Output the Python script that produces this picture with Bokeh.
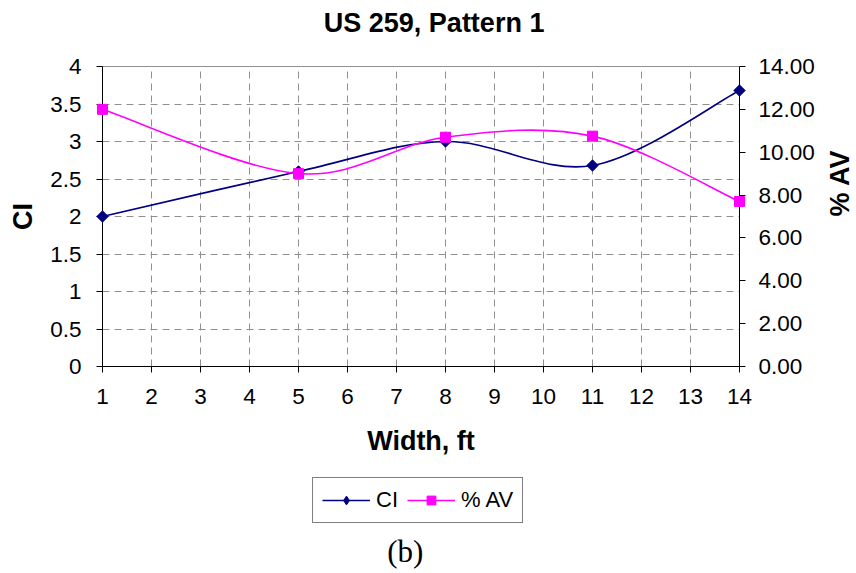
import math
from bokeh.plotting import figure
from bokeh.layouts import column
from bokeh.models import (Range1d, LinearAxis, Legend, LegendItem, Label,
                          NumeralTickFormatter, FixedTicker)
from bokeh.embed import file_html
from bokeh.resources import INLINE

# ---- data ----
width_ft = [1, 5, 8, 11, 14]
ci = [2.0, 2.6, 3.0, 2.68, 3.68]
av = [12.0, 9.0, 10.7, 10.75, 7.7]
x_ticks = list(range(1, 15))
ci_ticks = [0, 0.5, 1, 1.5, 2, 2.5, 3, 3.5, 4]
av_ticks = [0, 2, 4, 6, 8, 10, 12, 14]

FONT = "Liberation Sans"
NAVY = "#000080"
MAGENTA = "#FF00FF"
W = 856
LEFT, RIGHT = 102, 117
FRAME_W = W - LEFT - RIGHT
TOP_H = 52
MAIN_H = 14 + 300 + 100
BOT_H = 572 - TOP_H - MAIN_H


def bezier_segments(xs, ys):
    """Excel-style smoothed line: cubic Bezier control points from the points."""
    n = len(xs)
    out = dict(x0=[], y0=[], x1=[], y1=[], cx0=[], cy0=[], cx1=[], cy1=[])
    for i in range(n - 1):
        pm = max(i - 1, 0)
        pp = min(i + 2, n - 1)
        out["x0"].append(xs[i]); out["y0"].append(ys[i])
        out["x1"].append(xs[i + 1]); out["y1"].append(ys[i + 1])
        out["cx0"].append(xs[i] + (xs[i + 1] - xs[pm]) / 6)
        out["cy0"].append(ys[i] + (ys[i + 1] - ys[pm]) / 6)
        out["cx1"].append(xs[i + 1] - (xs[pp] - xs[i]) / 6)
        out["cy1"].append(ys[i + 1] - (ys[pp] - ys[i]) / 6)
    return out


def strip(height):
    # frame is aligned with the main chart's frame by the column layout,
    # so map its x range to page pixels LEFT..W-RIGHT
    f = figure(width=W, height=height, output_backend="svg", toolbar_location=None,
               x_range=Range1d(LEFT, W - RIGHT), y_range=Range1d(0, height),
               x_axis_location=None, y_axis_location=None, min_border=0)
    f.title = None
    f.grid.visible = False
    f.outline_line_color = None
    f.background_fill_color = "white"
    f.border_fill_color = "white"
    return f


# ---- title strip ----
t = strip(TOP_H)
t.add_layout(Label(x=329, y=30, text="US 259, Pattern 1", text_font=FONT,
                   text_font_size="27px", text_font_style="bold",
                   text_baseline="alphabetic", text_color="black"))

# ---- main chart ----
p = figure(frame_width=FRAME_W, frame_height=300, output_backend="svg",
           toolbar_location=None,
           x_range=Range1d(1, 14), y_range=Range1d(0, 4),
           min_border_left=LEFT, min_border_right=RIGHT,
           min_border_top=14, min_border_bottom=100)
p.title = None
p.extra_y_ranges = {"av": Range1d(0, 14)}

p.background_fill_color = "white"
p.border_fill_color = "white"
p.outline_line_color = "#909090"
p.outline_line_width = 1


def style_axis(ax):
    ax.axis_line_color = "black"
    ax.axis_line_width = 1
    ax.major_tick_line_color = "black"
    ax.major_tick_out = 6
    ax.major_tick_in = 0
    ax.minor_tick_line_color = None
    ax.major_label_text_font = FONT
    ax.major_label_text_font_size = "22.5px"
    ax.major_label_text_color = "black"
    ax.axis_label_text_font = FONT
    ax.axis_label_text_font_size = "27px"
    ax.axis_label_text_font_style = "bold"
    ax.axis_label_text_color = "black"


xa = p.xaxis[0]
style_axis(xa)
xa.ticker = FixedTicker(ticks=x_ticks)
xa.axis_label = "Width, ft"
xa.major_label_standoff = 16
xa.axis_label_standoff = 19

ya = p.yaxis[0]
style_axis(ya)
ya.ticker = FixedTicker(ticks=ci_ticks)
ya.formatter = NumeralTickFormatter(format="0.[0]")
ya.axis_label = "CI"
ya.major_label_standoff = 15
ya.axis_label_standoff = 9

ra = LinearAxis(y_range_name="av", ticker=FixedTicker(ticks=av_ticks),
                formatter=NumeralTickFormatter(format="0.00"), axis_label="% AV")
style_axis(ra)
ra.major_label_standoff = 13
ra.axis_label_standoff = 22
try:
    ra.axis_label_orientation = math.pi / 2
except Exception:
    pass
p.add_layout(ra, "right")

for g in (p.xgrid[0], p.ygrid[0]):
    g.grid_line_color = "#909090"
    g.grid_line_dash = "7 5"
    g.grid_line_width = 1

ci_seg = bezier_segments(width_ft, ci)
av_seg = bezier_segments(width_ft, av)

p.bezier(x0="x0", y0="y0", x1="x1", y1="y1", cx0="cx0", cy0="cy0",
         cx1="cx1", cy1="cy1", source=ci_seg, line_color=NAVY, line_width=1.6)
p.bezier(x0="x0", y0="y0", x1="x1", y1="y1", cx0="cx0", cy0="cy0",
         cx1="cx1", cy1="cy1", source=av_seg, line_color=MAGENTA, line_width=1.6,
         y_range_name="av")

p.scatter(width_ft, ci, marker="square", angle=math.pi / 4, size=8,
          fill_color=NAVY, line_color=NAVY, level="overlay")
p.scatter(width_ft, av, marker="square", size=10, fill_color=MAGENTA,
          line_color=MAGENTA, y_range_name="av", level="overlay")

# ---- legend + caption strip ----
q = strip(BOT_H)
lx, ly = [-100, -90], [-100, -90]   # off-canvas stand-ins for the swatches
ci_l = q.line(lx, ly, line_color=NAVY, line_width=1.6)
ci_m = q.scatter(lx, ly, marker="diamond", size=14, fill_color=NAVY, line_color=NAVY)
av_l = q.line(lx, ly, line_color=MAGENTA, line_width=1.6)
av_m = q.scatter(lx, ly, marker="square", size=10, fill_color=MAGENTA,
                 line_color=MAGENTA)

legend = Legend(items=[LegendItem(label="CI", renderers=[ci_l, ci_m]),
                       LegendItem(label="% AV", renderers=[av_l, av_m])],
                orientation="horizontal", location=(312 - LEFT, BOT_H - 57),
                glyph_width=48, glyph_height=22, label_standoff=6, spacing=9,
                padding=9, margin=0,
                border_line_color="black", border_line_width=1,
                background_fill_color="white",
                label_text_font=FONT, label_text_font_size="22px",
                label_text_color="black")
q.add_layout(legend, "center")

q.add_layout(Label(x=394, y=BOT_H - 85, text="(b)", text_font="Liberation Serif",
                   text_font_size="31px", text_baseline="alphabetic",
                   text_color="black"))

layout = column(t, p, q, spacing=0)
open("out.html", "w").write(file_html(layout, INLINE))
